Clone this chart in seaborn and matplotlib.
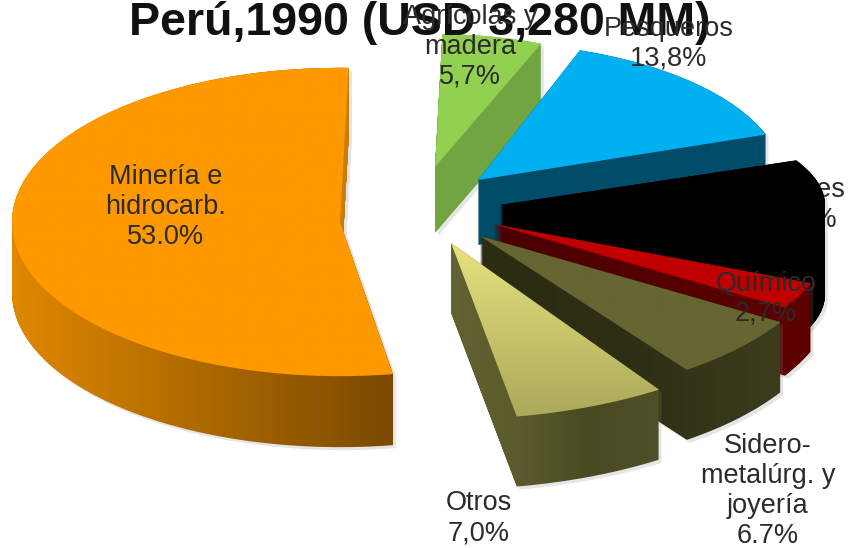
import numpy as np
import matplotlib
matplotlib.use('Agg')
import matplotlib.pyplot as plt
import seaborn as sns
from matplotlib.colors import to_rgb
from matplotlib.patches import PathPatch, Wedge
from matplotlib.path import Path

# Data (counter-clockwise from the top of the pie)
sectors = ['Minería e\nhidrocarb.', 'Otros', 'Sidero-\nmetalúrg. y\njoyería', 'Químico', 'Textiles', 'Pesqueros', 'Agrícolas y\nmadera']
shares = [53.0, 7.0, 6.7, 2.7, 11.1, 13.8, 5.7]
share_labels = ['53.0%', '7,0%', '6.7%', '2,7%', '11,1%', '13,8%', '5,7%']

# Styles and positions, in pixels of the picture
squash = 0.47
apex = [(340, 222), (451, 243), (480, 236), (493, 224), (500, 205), (478, 180), (435, 167)]
radius = [328, 375, 352, 342, 325, 305, 283]
stretch = [1, 1, 1, 1, 0.71, 0.96, 1]
# small corrections for the perspective of the original, in degrees
theta_fix = [(0, 0), (0.8, -0.8), (1.5, 0), (0, 0), (0, 6), (1, 2.5), (0, 0)]
depth = [71, 70, 70, 68, 90, 65, 66]
top_colors = [['#FF9900'], ['#E6E27E', '#ABA95A'], ['#666633'], ['#C00000'], ['#000000'], ['#00B0F0'], ['#92D050']]
side_colors = [['#E08800', '#7A4A00'], ['#626232', '#5A5A2C', '#4A4A22', '#505028'], ['#2C2C12', '#2E2E14', '#3C3C1E'],
               ['#4A0000', '#5E0000'], ['#000000'], ['#004C69'], ['#71A541']]
label_pos = [(166, 207), (479, 518), (768, 491), (766, 299), (800, 205), (669, 44), (470, 47)]
draw_order = [0, 6, 5, 4, 3, 2, 1]
W, H = 848, 548

sns.set_theme(style='white')
plt.rcParams['font.family'] = ['Liberation Sans', 'DejaVu Sans']


def ypx(y):
    return (H - y) / squash


def gradient(ax, path, colors, extent, vertical, zorder):
    rgb = np.array([to_rgb(c) for c in colors])
    if len(rgb) == 1:
        rgb = np.vstack([rgb, rgb])
    t = np.linspace(0, 1, 256)
    stops = np.linspace(0, 1, len(rgb))
    img = np.stack([np.interp(t, stops, rgb[:, i]) for i in range(3)], axis=-1)
    img = img[::-1, None, :] if vertical else img[None, :, :]
    im = ax.imshow(img, extent=extent, origin='lower', aspect='auto', interpolation='bilinear', zorder=zorder)
    im.set_clip_path(path, ax.transData)


def sweep(path, px):
    parts = [Path(path.vertices - [0, d / squash], path.codes) for d in range(px + 1)]
    return Path.make_compound_path(*parts)


fig = plt.figure(figsize=(W / 100, H / 100), dpi=100)
ax = fig.add_axes([0, 0, 1, 1])
wedges, _ = ax.pie(shares, startangle=88.5, counterclock=True, wedgeprops={'linewidth': 0})

z = 2
for i in draw_order:
    w = wedges[i]
    cy = ypx(apex[i][1])
    w.set_center((apex[i][0], cy))
    w.set_radius(radius[i])
    w.set_theta1(w.theta1 + theta_fix[i][0])
    w.set_theta2(w.theta2 + theta_fix[i][1])
    w.set_visible(False)
    verts = w.get_path().vertices.copy()
    verts[:, 1] = cy + (verts[:, 1] - cy) * stretch[i]
    top = Path(verts, w.get_path().codes)
    x0, x1 = verts[:, 0].min(), verts[:, 0].max()
    y0, y1 = verts[:, 1].min(), verts[:, 1].max()
    body = sweep(top, depth[i])

    # soft shadow
    shadow = Path(body.vertices + [3, -3 / squash], body.codes)
    ax.add_patch(PathPatch(shadow, facecolor='#808080', alpha=0.2, lw=0, zorder=z))
    z += 1
    gradient(ax, body, side_colors[i], (x0, x1, 0, H / squash), False, z)
    z += 1
    if i == 0:
        # the cut face at the back of the big slice is lighter than its rim
        back = Wedge(w.center, w.r, w.theta1, w.theta1 + 30).get_path()
        ax.add_patch(PathPatch(sweep(back, depth[i]), facecolor='#C87F00', lw=0, zorder=z))
        z += 1
    gradient(ax, top, top_colors[i], (x0, x1, y0, y1), True, z)
    z += 1

ax.set_xlim(0, W)
ax.set_ylim(0, H / squash)
ax.set_aspect('auto')
ax.axis('off')

ax.text(420, ypx(35), 'Perú,1990 (USD 3,280 MM)', fontsize=33.5, fontweight='bold', color='#111111',
        ha='center', va='baseline', zorder=z)
z += 1
for i, name in enumerate(sectors):
    # the Textiles label sits behind its black slice
    zo = 1 if name == 'Textiles' else z
    ax.text(label_pos[i][0], ypx(label_pos[i][1]), name + '\n' + share_labels[i], fontsize=19.5, color='#2B2B2B',
            ha='center', va='center', linespacing=1.2, zorder=zo)

fig.savefig('out.png', dpi=100)
